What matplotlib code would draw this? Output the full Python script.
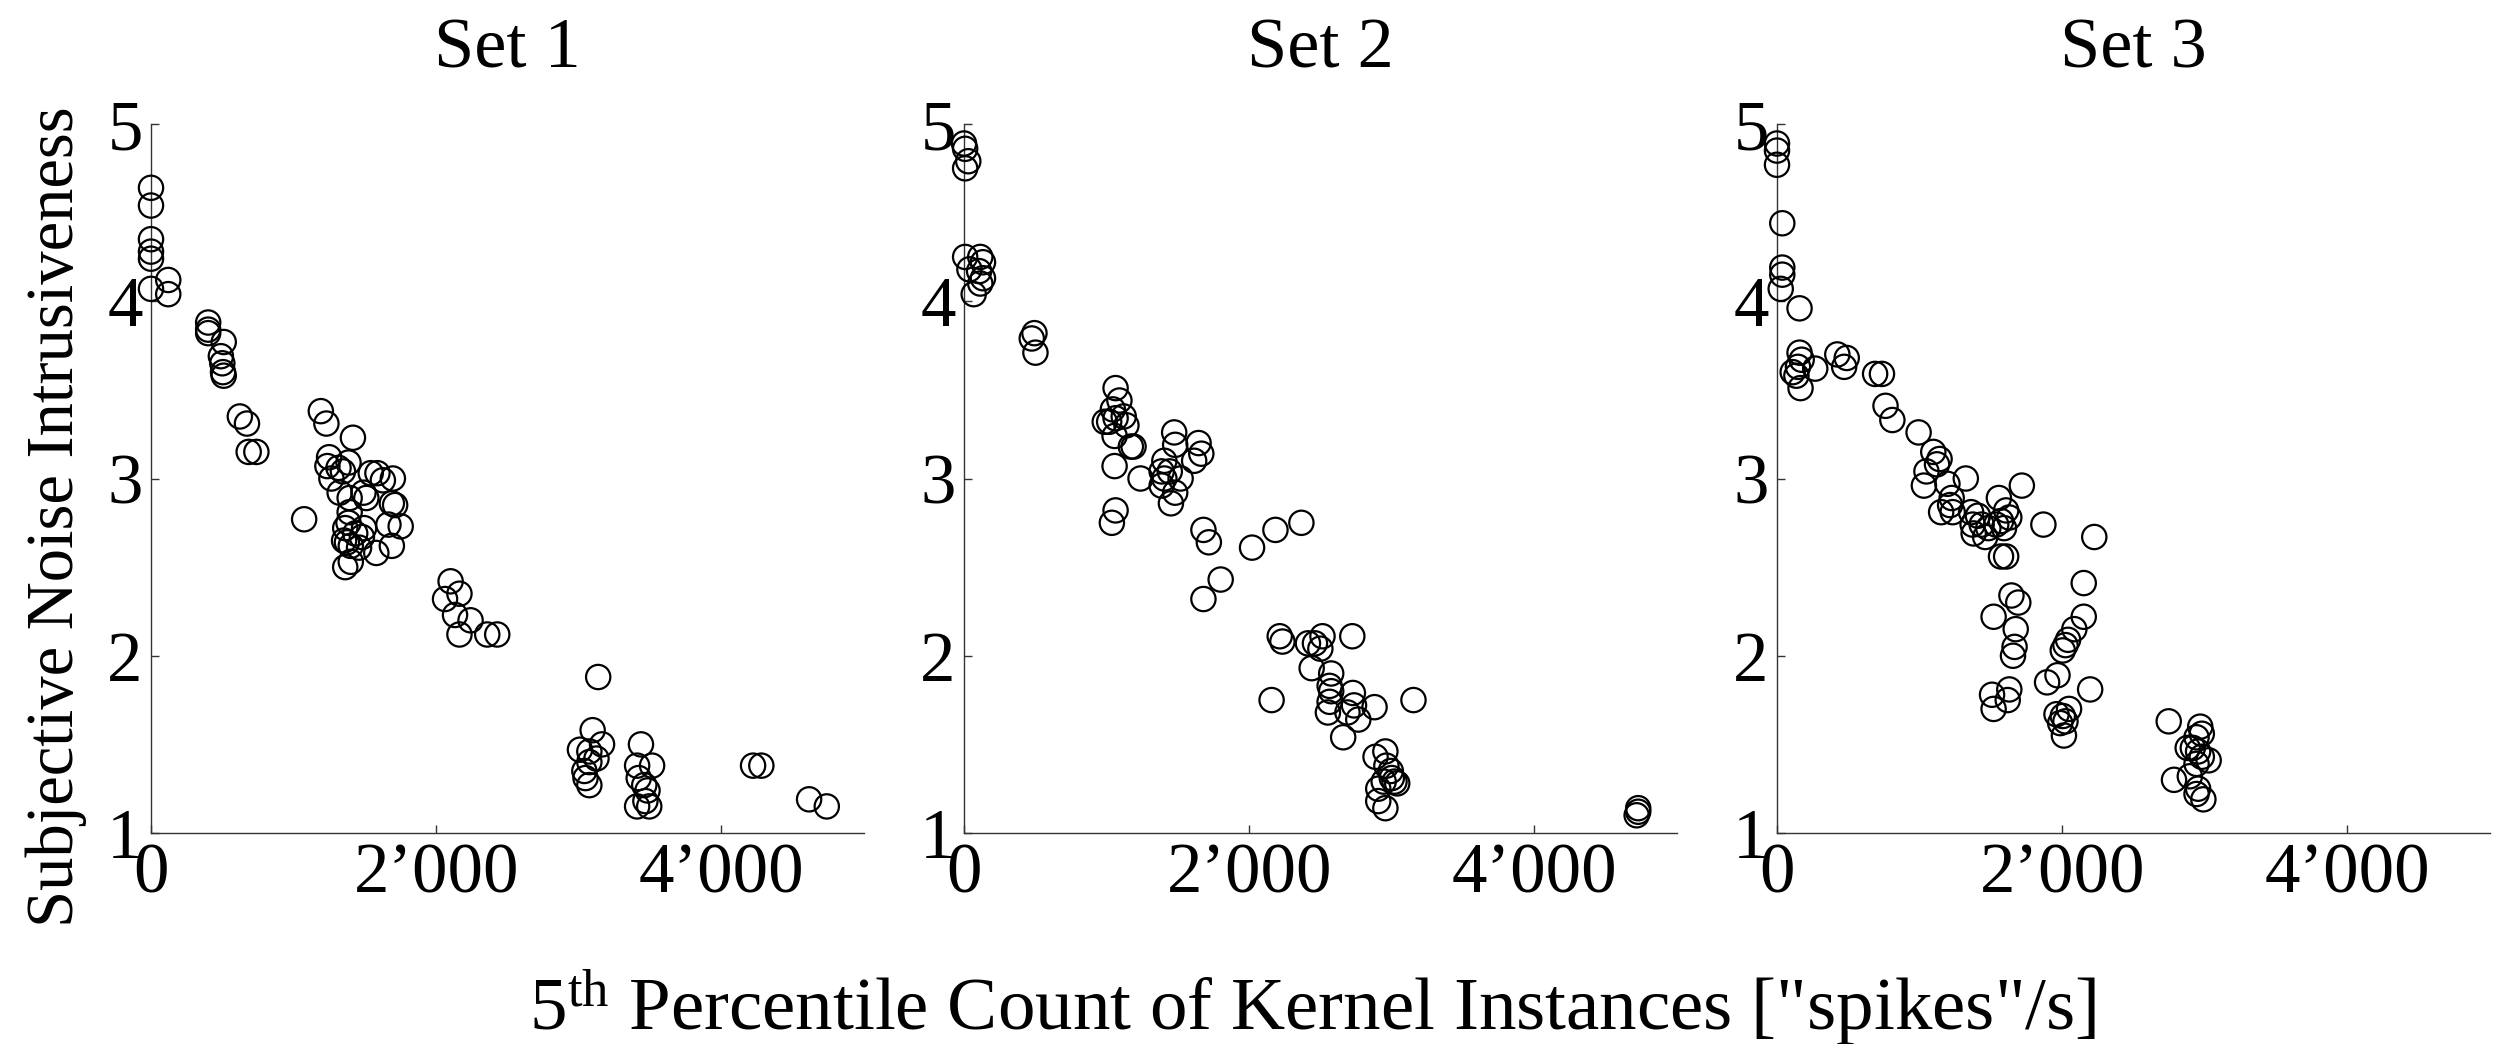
import matplotlib
matplotlib.use("Agg")
import matplotlib.pyplot as plt
from matplotlib.ticker import FixedLocator, FixedFormatter

SERIF = "Liberation Serif"
plt.rcParams["font.family"] = "serif"
plt.rcParams["font.serif"] = [SERIF, "DejaVu Serif"]
plt.rcParams["mathtext.fontset"] = "custom"
plt.rcParams["mathtext.rm"] = SERIF
plt.rcParams["mathtext.it"] = SERIF + ":italic"
plt.rcParams["mathtext.bf"] = SERIF + ":bold"

# Listening-test sets: 5th percentile kernel count vs. rated intrusiveness
set_names = ["Set 1", "Set 2", "Set 3"]

set1_x = [0, 0, 0, 0, 0, 0, 121, 121, 401, 401, 401, 510, 490, 500, 505, 510,
          623, 673, 685, 739, 1074, 1191, 1230, 1416, 1249, 1237, 1265, 1315,
          1346, 1385, 1323, 1393, 1510, 1541, 1588, 1626, 1696, 1689, 1712,
          1751, 1665, 1689, 1580, 1494, 1479, 1393, 1385, 1362, 1354, 1374,
          1401, 1459, 1362, 1401, 1432, 1490, 2101, 2062, 2163, 2132, 2163,
          2241, 2358, 2428, 3136, 3097, 3163, 3008, 3074, 3124, 3074, 3039,
          3047, 3074, 3436, 3409, 3514, 3420, 3459, 3482, 3409, 3494, 3467,
          4222, 4280, 4615, 4739]
set1_y = [4.64, 4.54, 4.35, 4.28, 4.24, 4.07, 4.12, 4.04, 3.88, 3.84, 3.82,
          3.77, 3.69, 3.65, 3.60, 3.58, 3.35, 3.31, 3.15, 3.15, 2.77, 3.38,
          3.31, 3.23, 3.12, 3.07, 3.00, 3.06, 3.04, 3.09, 2.92, 2.89, 2.89,
          3.03, 3.03, 2.99, 3.00, 2.86, 2.85, 2.73, 2.74, 2.62, 2.58, 2.72,
          2.67, 2.81, 2.75, 2.72, 2.65, 2.64, 2.62, 2.61, 2.50, 2.53, 2.69,
          2.92, 2.42, 2.32, 2.35, 2.23, 2.12, 2.20, 2.12, 2.12, 1.88, 1.58,
          1.50, 1.47, 1.46, 1.42, 1.40, 1.35, 1.31, 1.27, 1.50, 1.38, 1.38,
          1.31, 1.27, 1.24, 1.15, 1.15, 1.18, 1.38, 1.38, 1.19, 1.15]

set2_x = [0, 8, 30, 8, 8, 114, 133, 38, 106, 133, 114, 68, 494, 475, 501,
          1063, 1090, 1044, 987, 1018, 1063, 1120, 1139, 1056, 1170, 1189,
          1056, 1063, 1037, 1238, 1474, 1481, 1645, 1664, 1614, 1405, 1386,
          1405, 1443, 1386, 1481, 1519, 1451, 1679, 1717, 1800, 1679, 2020,
          2184, 2366, 2214, 2233, 2412, 2461, 2514, 2499, 2438, 2723, 2157,
          2575, 2564, 2575, 2564, 2552, 2727, 2735, 2689, 2765, 2879, 2659,
          3152, 2886, 2955, 2962, 2993, 3019, 3038, 2943, 2905, 2905, 2955,
          3000, 4728, 4728, 4717]
set2_y = [4.89, 4.86, 4.79, 4.75, 4.25, 4.25, 4.22, 4.18, 4.17, 4.13, 4.10,
          4.04, 3.82, 3.79, 3.71, 3.51, 3.44, 3.39, 3.32, 3.32, 3.34, 3.35,
          3.30, 3.24, 3.18, 3.18, 3.07, 2.82, 2.75, 3.00, 3.26, 3.19, 3.20,
          3.14, 3.10, 3.10, 3.04, 3.00, 3.04, 2.96, 2.92, 3.00, 2.86, 2.71,
          2.64, 2.43, 2.32, 2.61, 2.71, 2.75, 2.11, 2.08, 2.07, 2.07, 2.11,
          2.04, 1.93, 2.11, 1.75, 1.90, 1.83, 1.80, 1.74, 1.68, 1.79, 1.72,
          1.68, 1.64, 1.71, 1.54, 1.75, 1.43, 1.46, 1.38, 1.35, 1.29, 1.28,
          1.29, 1.25, 1.18, 1.14, 1.31, 1.14, 1.12, 1.10]

set3_x = [0, 0, 0, 37, 37, 37, 26, 158, 158, 173, 147, 110, 136, 165, 268,
          423, 489, 471, 688, 736, 761, 809, 993, 1096, 1140, 1122, 1048, 1030,
          1195, 1225, 1214, 1151, 1324, 1232, 1361, 1409, 1372, 1435, 1482,
          1379, 1460, 1556, 1607, 1629, 1571, 1592, 1537, 1717, 1868, 2225,
          1571, 1607, 1644, 1692, 1519, 1674, 1666, 1655, 2151, 2151, 2085,
          2041, 2023, 2004, 1967, 1894, 2196, 1629, 1618, 1508, 1519, 1960,
          2004, 2048, 2023, 1986, 2012, 2747, 2784, 2968, 2979, 2942, 2880,
          2916, 2953, 2979, 3027, 2942, 2895, 2953, 2942, 2990]
set3_y = [4.89, 4.85, 4.77, 4.44, 4.19, 4.15, 4.07, 3.96, 3.71, 3.67, 3.63,
          3.60, 3.58, 3.51, 3.62, 3.70, 3.68, 3.63, 3.59, 3.59, 3.41, 3.33,
          3.26, 3.15, 3.11, 3.08, 3.04, 2.96, 2.97, 2.89, 2.85, 2.81, 3.00,
          2.81, 2.81, 2.79, 2.74, 2.74, 2.72, 2.69, 2.67, 2.89, 2.82, 2.78,
          2.76, 2.72, 2.74, 2.96, 2.74, 2.67, 2.56, 2.56, 2.34, 2.30, 2.22,
          2.15, 2.05, 2.00, 2.41, 2.22, 2.15, 2.09, 2.06, 2.03, 1.89, 1.85,
          1.81, 1.81, 1.75, 1.78, 1.70, 1.67, 1.66, 1.70, 1.63, 1.62, 1.55,
          1.63, 1.30, 1.60, 1.56, 1.54, 1.48, 1.48, 1.46, 1.43, 1.41, 1.39,
          1.32, 1.25, 1.22, 1.19]

x_ticks = [0, 2000, 4000]
x_tick_labels = ["0", "2\u2019000", "4\u2019000"]
y_ticks = [1, 2, 3, 4, 5]
y_tick_labels = ["1", "2", "3", "4", "5"]

W, H = 2504, 1044
fig = plt.figure(figsize=(W / 100, H / 100), dpi=100)

axis_color = "#333333"
lefts = [151, 964, 1777]
ax_w, ax_top, ax_bot = 713, 124, 833

all_x = [set1_x, set2_x, set3_x]
all_y = [set1_y, set2_y, set3_y]

for left, name, xs, ys in zip(lefts, set_names, all_x, all_y):
    ax = fig.add_axes([left / W, (H - ax_bot) / H, ax_w / W, (ax_bot - ax_top) / H])
    ax.scatter(xs, ys, s=17.5 ** 2, facecolors="none", edgecolors="black",
               linewidths=1.6, clip_on=False, zorder=3)
    ax.set_xlim(0, 5000)
    ax.set_ylim(1, 5)
    for side in ("top", "right"):
        ax.spines[side].set_visible(False)
    for side in ("left", "bottom"):
        ax.spines[side].set_color(axis_color)
        ax.spines[side].set_linewidth(1.0)
    ax.xaxis.set_major_locator(FixedLocator(x_ticks))
    ax.xaxis.set_major_formatter(FixedFormatter(x_tick_labels))
    ax.yaxis.set_major_locator(FixedLocator(y_ticks))
    ax.yaxis.set_major_formatter(FixedFormatter(y_tick_labels))
    ax.tick_params(axis="both", direction="in", length=5.5, width=1.0,
                   color=axis_color, labelsize=51, labelcolor="black",
                   labelfontfamily=SERIF)
    ax.tick_params(axis="x", pad=7)
    ax.tick_params(axis="y", pad=6)
    ax.set_title(name, fontsize=52, pad=41, family=SERIF)

fig.text(1313 / W, 14 / H,
         '5$^{\\mathrm{th}}$ Percentile Count of Kernel Instances ["spikes"/s]',
         ha="center", va="baseline", fontsize=54, family=SERIF)
fig.text(56 / W, (H - 517) / H, "Subjective Noise Intrusiveness",
         rotation=90, ha="center", va="center", fontsize=48, family=SERIF)

fig.savefig("out.png", dpi=100)
